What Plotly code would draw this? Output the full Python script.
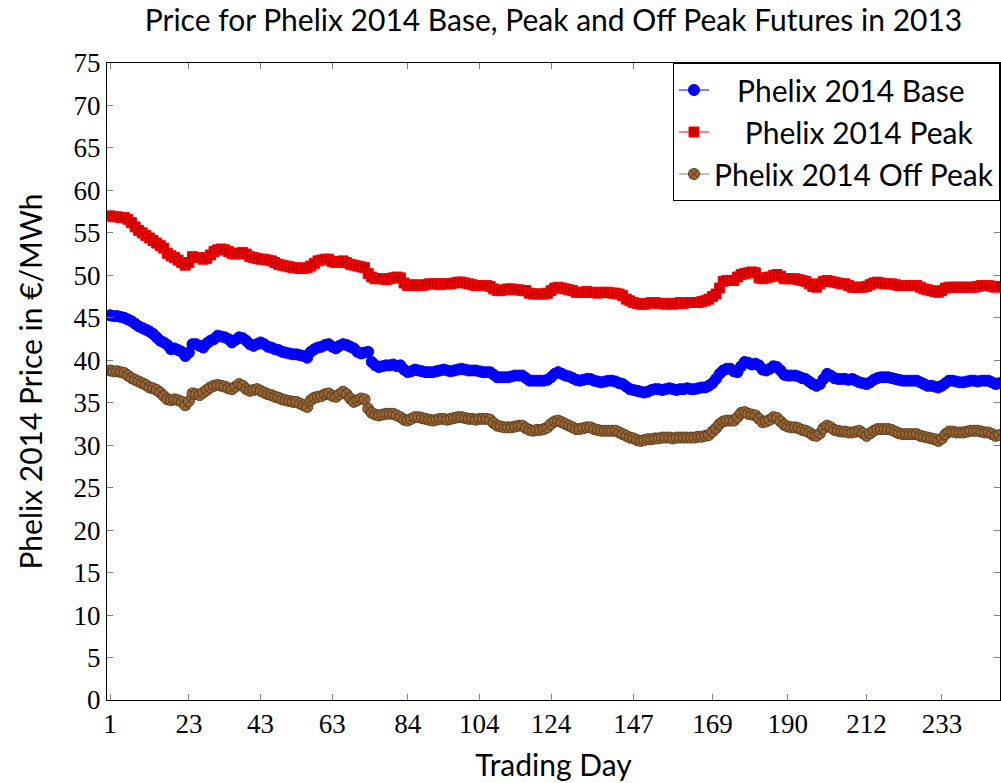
import plotly.graph_objects as go

# Trading-day tick labels (first trading day of each month)
x_ticks = [1, 23, 43, 63, 84, 104, 124, 147, 169, 190, 212, 233]
y_ticks = list(range(0, 80, 5))

base = [45.3, 45.2, 45.2, 45.1, 45.0, 44.8, 44.6, 44.3, 44.0, 43.8,
        43.6, 43.4, 43.1, 42.7, 42.3, 42.1, 41.8, 41.3, 41.4, 41.2,
        41.0, 40.5, 40.9, 41.9, 41.9, 41.7, 41.5, 42.0, 42.3, 42.5,
        42.9, 42.8, 42.7, 42.5, 42.1, 42.4, 42.7, 42.6, 42.3, 41.9,
        41.7, 41.9, 42.1, 41.9, 41.6, 41.5, 41.3, 41.2, 41.0, 40.9,
        40.8, 40.7, 40.7, 40.6, 40.5, 40.3, 41.0, 41.3, 41.5, 41.6,
        41.8, 41.9, 41.6, 41.4, 41.7, 41.9, 41.8, 41.6, 41.4, 41.0,
        40.8, 40.9, 41.0, 39.8, 39.4, 39.2, 39.3, 39.4, 39.4, 39.5,
        39.3, 39.4, 38.9, 38.6, 38.7, 38.9, 38.8, 38.7, 38.6, 38.6,
        38.6, 38.7, 38.8, 38.9, 38.8, 38.7, 38.8, 38.9, 39.0, 38.9,
        38.8, 38.8, 38.8, 38.7, 38.6, 38.6, 38.6, 38.3, 38.0, 38.0,
        38.0, 38.0, 38.1, 38.2, 38.2, 38.2, 37.9, 37.6, 37.6, 37.6,
        37.6, 37.6, 37.7, 38.0, 38.4, 38.6, 38.4, 38.2, 38.1, 37.9,
        37.7, 37.6, 37.7, 37.8, 37.8, 37.6, 37.5, 37.4, 37.5, 37.6,
        37.6, 37.5, 37.3, 37.2, 36.9, 36.6, 36.5, 36.4, 36.3, 36.2,
        36.3, 36.5, 36.6, 36.6, 36.5, 36.6, 36.7, 36.6, 36.5, 36.6,
        36.6, 36.7, 36.6, 36.6, 36.7, 36.8, 36.8, 37.0, 37.3, 37.8,
        38.4, 38.8, 39.0, 39.0, 38.7, 38.6, 39.3, 39.8, 39.7, 39.5,
        39.6, 39.4, 38.9, 38.8, 39.0, 39.3, 39.2, 38.8, 38.3, 38.2,
        38.2, 38.2, 38.1, 37.9, 37.8, 37.5, 37.2, 37.0, 37.2, 37.8,
        38.4, 38.2, 37.9, 37.8, 37.8, 37.8, 37.7, 37.8, 37.6, 37.4,
        37.3, 37.2, 37.4, 37.7, 37.9, 38.0, 38.0, 38.0, 37.9, 37.8,
        37.7, 37.6, 37.6, 37.6, 37.6, 37.6, 37.4, 37.2, 37.0, 37.0,
        36.9, 36.8, 37.0, 37.3, 37.6, 37.6, 37.5, 37.4, 37.4, 37.5,
        37.6, 37.6, 37.5, 37.6, 37.6, 37.6, 37.4, 37.2, 37.3]

peak = [57.0, 56.9, 56.9, 56.8, 56.8, 56.6, 56.2, 55.7, 55.3, 55.0,
        54.7, 54.4, 54.1, 53.8, 53.5, 53.2, 52.6, 52.3, 52.1, 51.8,
        51.5, 51.2, 51.5, 52.2, 52.1, 52.1, 51.9, 52.0, 52.4, 52.8,
        53.0, 53.1, 53.0, 52.8, 52.6, 52.5, 52.6, 52.7, 52.5, 52.2,
        52.1, 52.0, 51.9, 51.9, 51.8, 51.7, 51.5, 51.3, 51.2, 51.1,
        51.0, 50.9, 50.9, 50.8, 50.8, 50.9, 51.1, 51.4, 51.7, 51.8,
        51.9, 51.9, 51.6, 51.5, 51.6, 51.7, 51.5, 51.3, 51.2, 51.1,
        51.0, 50.9, 50.2, 49.8, 49.6, 49.6, 49.6, 49.5, 49.6, 49.7,
        49.8, 49.7, 49.1, 48.8, 48.8, 48.9, 48.8, 48.8, 48.9, 49.0,
        49.0, 49.0, 48.9, 49.0, 49.0, 49.0, 49.1, 49.2, 49.2, 49.1,
        49.0, 48.9, 48.8, 48.8, 48.8, 48.8, 48.7, 48.4, 48.2, 48.2,
        48.3, 48.4, 48.4, 48.3, 48.3, 48.2, 48.2, 47.9, 47.8, 47.8,
        47.8, 47.8, 47.9, 48.2, 48.5, 48.6, 48.5, 48.4, 48.3, 48.2,
        48.0, 48.0, 48.0, 48.1, 48.0, 48.0, 47.9, 48.0, 48.0, 48.0,
        47.9, 47.9, 47.8, 47.6, 47.2, 47.0, 46.8, 46.7, 46.6, 46.6,
        46.7, 46.8, 46.8, 46.7, 46.7, 46.6, 46.7, 46.6, 46.7, 46.8,
        46.7, 46.8, 46.8, 46.8, 46.8, 46.9, 47.0, 47.2, 47.5, 47.8,
        48.5, 49.3, 49.4, 49.4, 49.4, 49.8, 50.1, 50.2, 50.3, 50.4,
        50.3, 49.7, 49.6, 49.7, 49.8, 50.0, 50.1, 49.9, 49.6, 49.6,
        49.6, 49.6, 49.5, 49.4, 49.3, 49.0, 48.7, 48.6, 49.0, 49.3,
        49.4, 49.3, 49.2, 49.1, 49.0, 49.0, 48.8, 48.6, 48.6, 48.6,
        48.6, 48.7, 48.9, 49.1, 49.2, 49.1, 49.0, 49.0, 49.0, 48.9,
        48.8, 48.8, 48.8, 48.8, 48.8, 48.8, 48.6, 48.4, 48.3, 48.2,
        48.1, 48.0, 48.2, 48.5, 48.6, 48.6, 48.6, 48.6, 48.6, 48.6,
        48.6, 48.6, 48.7, 48.8, 48.8, 48.8, 48.7, 48.6, 48.7]

off_peak = [38.8, 38.7, 38.7, 38.6, 38.5, 38.2, 37.9, 37.7, 37.5, 37.3,
            37.1, 36.8, 36.7, 36.5, 36.2, 35.8, 35.4, 35.3, 35.4, 35.3,
            35.1, 34.7, 35.2, 36.1, 36.0, 35.9, 36.2, 36.5, 36.8, 37.0,
            37.1, 37.0, 36.9, 36.7, 36.6, 36.9, 37.2, 37.0, 36.6, 36.4,
            36.5, 36.6, 36.4, 36.2, 36.0, 35.9, 35.7, 35.6, 35.4, 35.3,
            35.2, 35.1, 35.1, 34.9, 34.7, 34.5, 35.3, 35.6, 35.7, 35.8,
            36.0, 36.1, 35.8, 35.7, 36.0, 36.3, 36.0, 35.5, 35.1, 35.3,
            35.5, 35.4, 34.3, 33.8, 33.6, 33.5, 33.6, 33.7, 33.7, 33.7,
            33.5, 33.3, 33.0, 32.9, 33.1, 33.3, 33.3, 33.2, 33.1, 33.0,
            32.9, 33.0, 33.1, 33.1, 33.0, 33.1, 33.2, 33.3, 33.3, 33.2,
            33.1, 33.1, 33.0, 33.1, 33.1, 33.1, 33.0, 32.6, 32.3, 32.2,
            32.1, 32.1, 32.1, 32.2, 32.3, 32.3, 32.0, 31.8, 31.7, 31.8,
            31.8, 31.9, 32.1, 32.5, 32.8, 32.9, 32.7, 32.5, 32.3, 32.1,
            31.9, 31.9, 32.0, 32.1, 32.1, 31.9, 31.8, 31.7, 31.7, 31.7,
            31.7, 31.7, 31.5, 31.3, 31.1, 30.9, 30.8, 30.6, 30.5, 30.6,
            30.7, 30.7, 30.8, 30.8, 30.9, 30.9, 30.9, 30.8, 30.9, 30.9,
            30.9, 30.9, 30.9, 30.9, 31.0, 31.0, 31.1, 31.2, 31.6, 32.0,
            32.5, 32.8, 32.9, 32.9, 32.9, 33.3, 33.8, 33.9, 33.7, 33.6,
            33.5, 33.1, 32.7, 32.8, 33.0, 33.3, 33.2, 32.8, 32.4, 32.2,
            32.1, 32.1, 32.0, 31.8, 31.7, 31.5, 31.2, 31.1, 31.4, 32.0,
            32.3, 32.1, 31.8, 31.7, 31.6, 31.6, 31.5, 31.5, 31.6, 31.7,
            31.4, 31.1, 31.4, 31.7, 31.9, 31.9, 31.9, 31.9, 31.8, 31.6,
            31.4, 31.3, 31.3, 31.3, 31.3, 31.3, 31.1, 31.0, 30.9, 30.8,
            30.7, 30.5, 30.8, 31.3, 31.6, 31.6, 31.5, 31.5, 31.5, 31.6,
            31.7, 31.7, 31.7, 31.6, 31.5, 31.5, 31.3, 31.1, 31.2]

days = list(range(1, len(base) + 1))

SANS = "Lato"
SERIF = "Liberation Serif"
SANS_SIZE = 30
NB = "\u00a0"  # non-breaking spaces to centre the shorter legend entries

fig = go.Figure()
fig.add_trace(go.Scatter(
    x=days, y=base, mode="lines+markers", name=NB * 3 + "Phelix 2014 Base",
    line=dict(color="#0000ff", width=1),
    marker=dict(symbol="circle", size=11, color="#0000ff",
                line=dict(color="#0000ff", width=1))))
fig.add_trace(go.Scatter(
    x=days, y=peak, mode="lines+markers", name=NB * 4 + "Phelix 2014 Peak",
    line=dict(color="#ff0000", width=1),
    marker=dict(symbol="square", size=10, color="#cc0000",
                line=dict(color="#ff0000", width=1))))
fig.add_trace(go.Scatter(
    x=days, y=off_peak, mode="lines+markers", name="Phelix 2014 Off Peak",
    line=dict(color="#9c7a54", width=1),
    marker=dict(symbol="circle-x", size=11, color="#996633",
                line=dict(color="#5c3d1f", width=1))))

axis_common = dict(
    showline=True, linecolor="black", linewidth=1, mirror="ticks",
    ticks="inside", ticklen=6, tickcolor="#808080", tickwidth=1,
    showgrid=False, zeroline=False, automargin=False,
    tickfont=dict(family=SERIF, size=27, color="black"),
)

fig.update_layout(
    width=1001, height=783,
    margin=dict(l=107, r=1, t=63, b=83, autoexpand=False),
    paper_bgcolor="white", plot_bgcolor="white",
    font=dict(family=SANS, size=SANS_SIZE, color="black"),
    title=dict(text="Price for Phelix 2014 Base, Peak and Off Peak Futures in 2013",
               xref="paper", x=0.5, xanchor="center",
               yref="container", y=1 - 20 / 783, yanchor="middle",
               font=dict(family=SANS, size=SANS_SIZE, color="black")),
    xaxis=dict(range=[0.16, 249.2], tickmode="array", tickvals=x_ticks,
               ticktext=[str(v) for v in x_ticks],
               title=dict(text="Trading Day", standoff=16,
                          font=dict(family=SANS, size=SANS_SIZE)),
               **axis_common),
    yaxis=dict(range=[0, 75], tickmode="array", tickvals=y_ticks,
               ticktext=[str(v) for v in y_ticks],
               title=dict(text="Phelix 2014 Price in €/MWh", standoff=22,
                          font=dict(family=SANS, size=SANS_SIZE)),
               **axis_common),
    legend=dict(x=1, y=1, xanchor="right", yanchor="top",
                bgcolor="white", bordercolor="black", borderwidth=1,
                font=dict(family=SANS, size=SANS_SIZE, color="black")),
)

# remove the default 8px page margin so the 1001x783 figure fills the window
fig.write_html("out.html",
               config={"displayModeBar": False},
               post_script="document.body.style.margin='0';"
                           "document.body.style.overflow='hidden';")
